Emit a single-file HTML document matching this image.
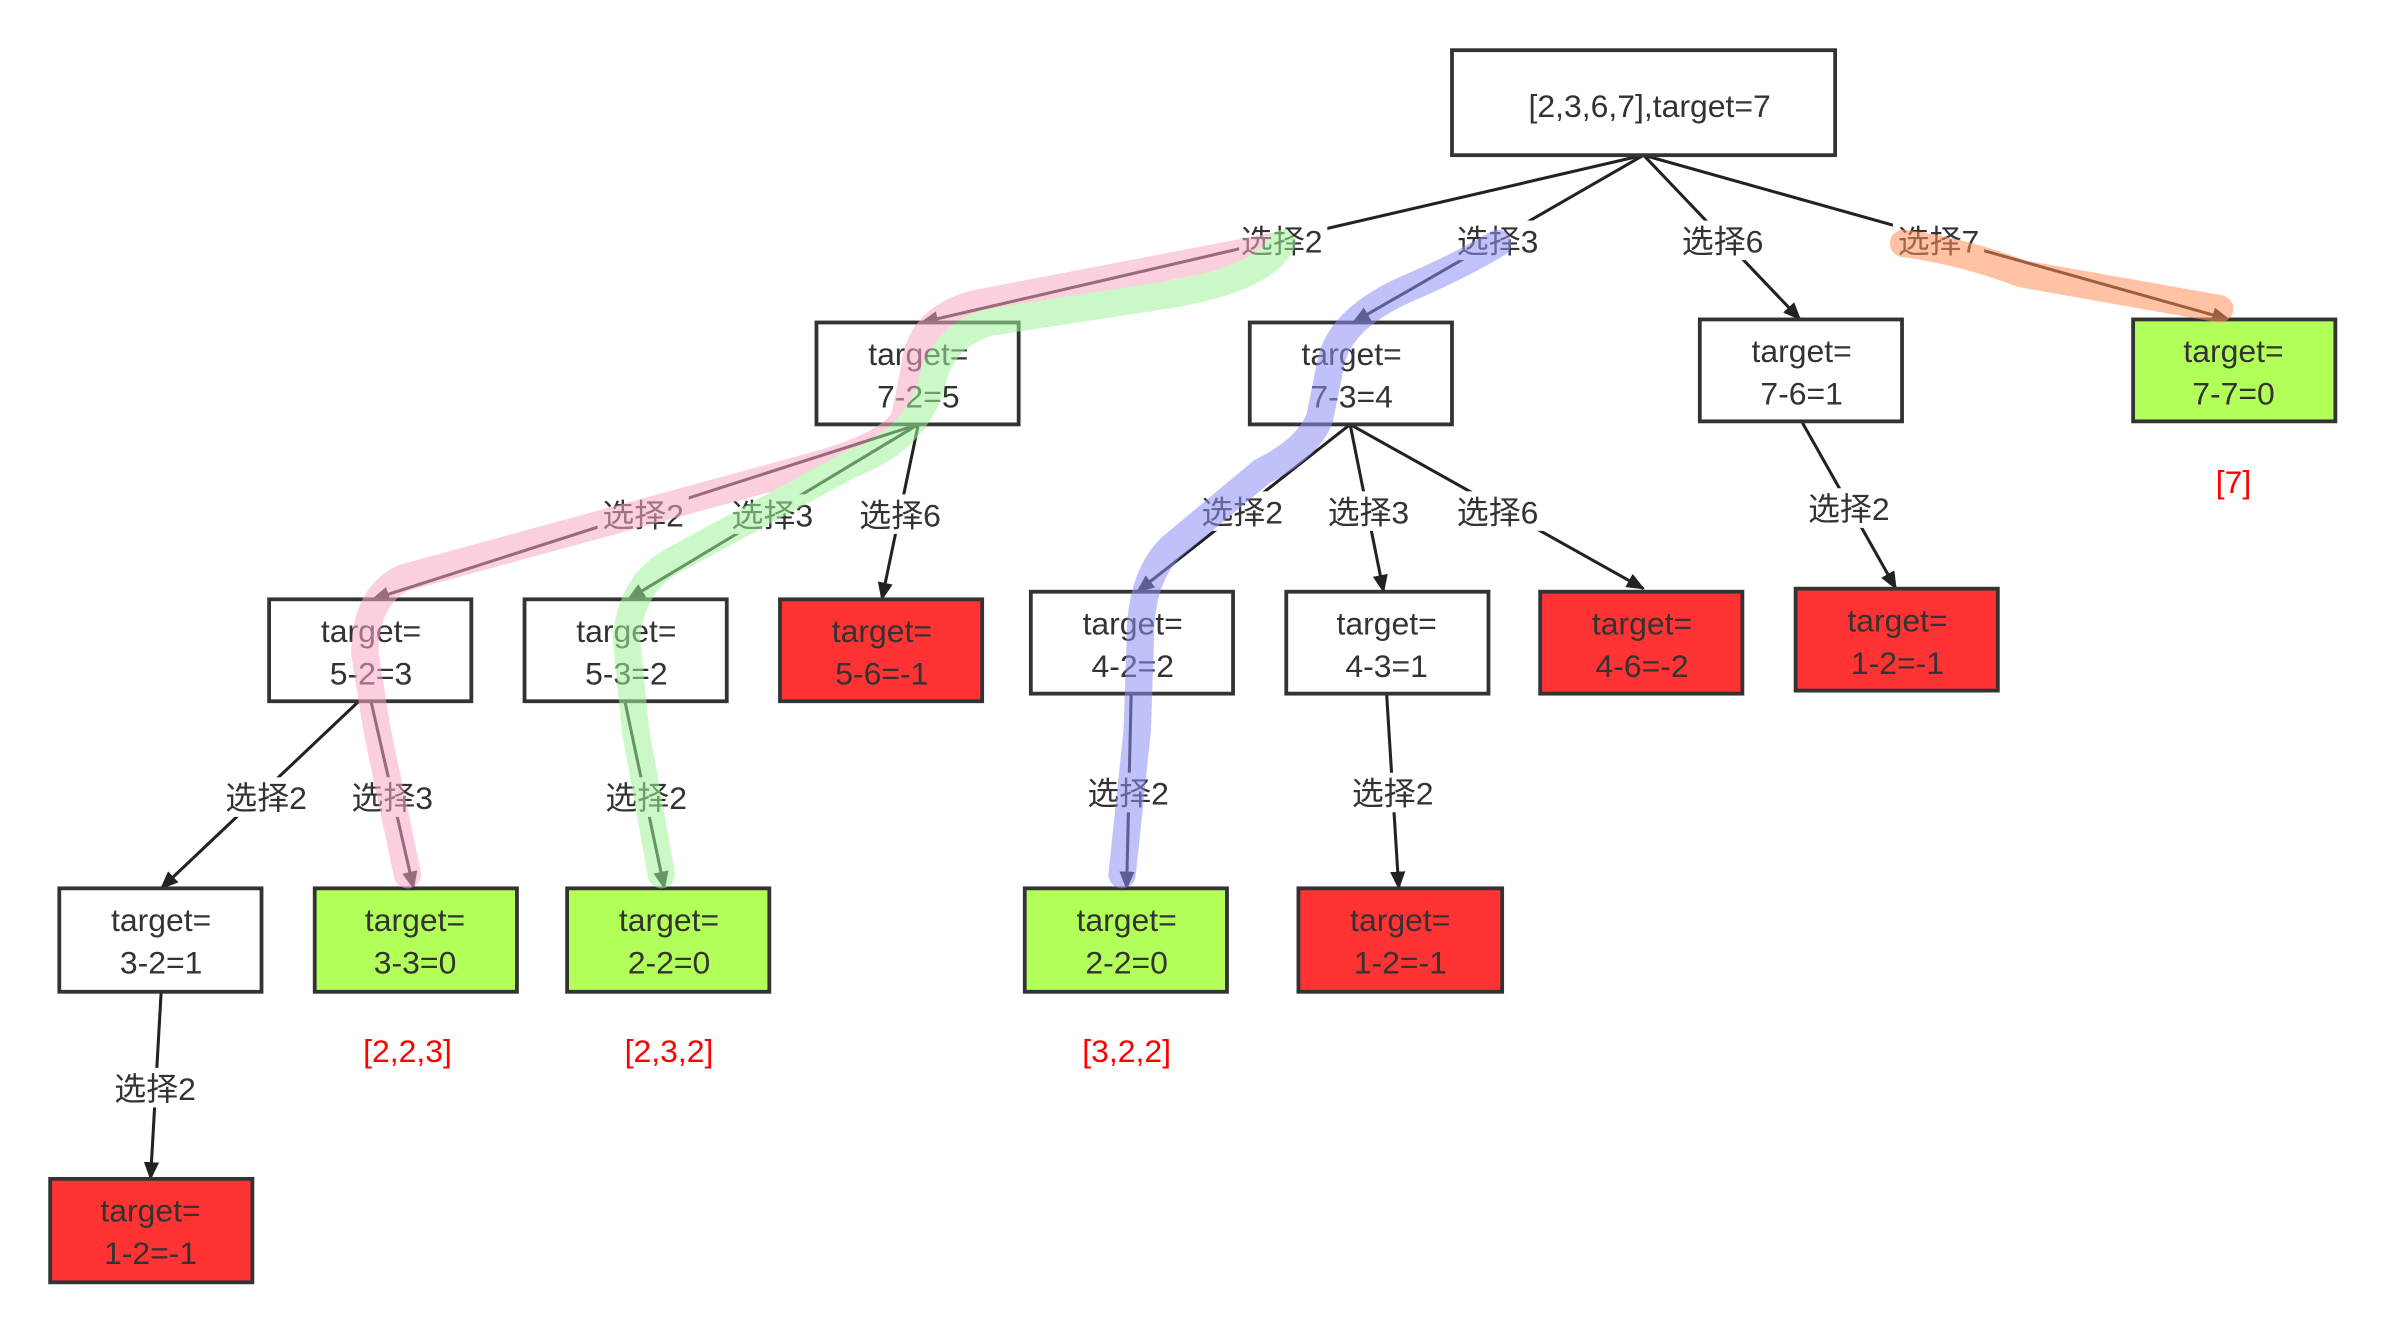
<!DOCTYPE html>
<html><head><meta charset="utf-8"><style>
html,body{margin:0;padding:0;background:#fff;}
svg{display:block;}
text{font-family:"Liberation Sans","Noto Sans CJK SC",sans-serif;font-size:21px;fill:#333;text-anchor:middle;}
</style></head><body>
<svg width="2384" height="1331" viewBox="0 0 1568 875" preserveAspectRatio="none" xmlns="http://www.w3.org/2000/svg">
<defs>
<marker id="ar" markerWidth="12" markerHeight="10" refX="11" refY="5" orient="auto" markerUnits="userSpaceOnUse">
<path d="M0,0 L12,5 L0,10 z" fill="#222"/></marker>
</defs>
<rect width="1568" height="875" fill="#fff"/>
<g stroke="#222" stroke-width="2" fill="none" marker-end="url(#ar)">
<line x1="1081" y1="102" x2="606" y2="212"/>
<line x1="1081" y1="102" x2="890" y2="212"/>
<line x1="1081" y1="102" x2="1184" y2="210"/>
<line x1="1081" y1="102" x2="1466" y2="210"/>
<line x1="604" y1="279" x2="245" y2="394"/>
<line x1="604" y1="279" x2="413" y2="394"/>
<line x1="604" y1="279" x2="580" y2="394"/>
<line x1="888" y1="279" x2="748" y2="389"/>
<line x1="888" y1="279" x2="910" y2="389"/>
<line x1="888" y1="279" x2="1081" y2="387"/>
<line x1="1185" y1="277" x2="1247" y2="387"/>
<line x1="236" y1="461" x2="106" y2="584"/>
<line x1="244" y1="461" x2="272" y2="584"/>
<line x1="411" y1="461" x2="437" y2="584"/>
<line x1="744" y1="456" x2="741" y2="584"/>
<line x1="912" y1="456" x2="920" y2="584"/>
<line x1="106" y1="652" x2="99" y2="775"/>
</g>
<g fill="#fff">
<rect x="815" y="145" width="58" height="26"/><rect x="955" y="145" width="60" height="26"/>
<rect x="1103" y="145" width="60" height="26"/><rect x="1245" y="145" width="60" height="26"/>
<rect x="393" y="325" width="60" height="26"/><rect x="478" y="325" width="60" height="26"/>
<rect x="562" y="325" width="60" height="26"/><rect x="787" y="323" width="60" height="26"/>
<rect x="870" y="323" width="60" height="26"/><rect x="955" y="323" width="60" height="26"/>
<rect x="1186" y="321" width="60" height="26"/><rect x="145" y="511" width="60" height="26"/>
<rect x="228" y="511" width="60" height="26"/><rect x="395" y="511" width="60" height="26"/>
<rect x="712" y="508" width="60" height="26"/><rect x="886" y="508" width="60" height="26"/>
<rect x="72" y="702" width="60" height="26"/>
</g>
<g>
<text x="843" y="166">选择2</text><text x="985" y="166">选择3</text>
<text x="1133" y="166">选择6</text><text x="1275" y="166">选择7</text>
<text x="423" y="346">选择2</text><text x="508" y="346">选择3</text>
<text x="592" y="346">选择6</text><text x="817" y="344">选择2</text>
<text x="900" y="344">选择3</text><text x="985" y="344">选择6</text>
<text x="1216" y="342">选择2</text><text x="175" y="532">选择2</text>
<text x="258" y="532">选择3</text><text x="425" y="532">选择2</text>
<text x="742" y="529">选择2</text><text x="916" y="529">选择2</text>
<text x="102" y="723">选择2</text>
</g>
<g stroke="#333" stroke-width="2.5">
<rect x="955" y="33" width="252" height="69" fill="#fff"/>
<rect x="537" y="212" width="133" height="67" fill="#fff"/>
<rect x="822" y="212" width="133" height="67" fill="#fff"/>
<rect x="1118" y="210" width="133" height="67" fill="#fff"/>
<rect x="1403" y="210" width="133" height="67" fill="#b2ff59"/>
<rect x="177" y="394" width="133" height="67" fill="#fff"/>
<rect x="345" y="394" width="133" height="67" fill="#fff"/>
<rect x="513" y="394" width="133" height="67" fill="#ff3333"/>
<rect x="678" y="389" width="133" height="67" fill="#fff"/>
<rect x="846" y="389" width="133" height="67" fill="#fff"/>
<rect x="1013" y="389" width="133" height="67" fill="#ff3333"/>
<rect x="1181" y="387" width="133" height="67" fill="#ff3333"/>
<rect x="39" y="584" width="133" height="68" fill="#fff"/>
<rect x="207" y="584" width="133" height="68" fill="#b2ff59"/>
<rect x="373" y="584" width="133" height="68" fill="#b2ff59"/>
<rect x="674" y="584" width="133" height="68" fill="#b2ff59"/>
<rect x="854" y="584" width="134" height="68" fill="#ff3333"/>
<rect x="33" y="775" width="133" height="68" fill="#ff3333"/>
</g>
<g>
<text x="1085" y="77">[2,3,6,7],target=7</text>
<text x="604" y="240">target=</text><text x="604" y="268">7-2=5</text>
<text x="889" y="240">target=</text><text x="889" y="268">7-3=4</text>
<text x="1185" y="238">target=</text><text x="1185" y="266">7-6=1</text>
<text x="1469" y="238">target=</text><text x="1469" y="266">7-7=0</text>
<text x="244" y="422">target=</text><text x="244" y="450">5-2=3</text>
<text x="412" y="422">target=</text><text x="412" y="450">5-3=2</text>
<text x="580" y="422">target=</text><text x="580" y="450">5-6=-1</text>
<text x="745" y="417">target=</text><text x="745" y="445">4-2=2</text>
<text x="912" y="417">target=</text><text x="912" y="445">4-3=1</text>
<text x="1080" y="417">target=</text><text x="1080" y="445">4-6=-2</text>
<text x="1248" y="415">target=</text><text x="1248" y="443">1-2=-1</text>
<text x="106" y="612">target=</text><text x="106" y="640">3-2=1</text>
<text x="273" y="612">target=</text><text x="273" y="640">3-3=0</text>
<text x="440" y="612">target=</text><text x="440" y="640">2-2=0</text>
<text x="741" y="612">target=</text><text x="741" y="640">2-2=0</text>
<text x="921" y="612">target=</text><text x="921" y="640">1-2=-1</text>
<text x="99" y="803">target=</text><text x="99" y="831">1-2=-1</text>
</g>
<g style="font-size:25px">
<text x="1469" y="324" style="fill:#f00">[7]</text>
<text x="268" y="698" style="fill:#f00">[2,2,3]</text>
<text x="440" y="698" style="fill:#f00">[2,3,2]</text>
<text x="741" y="698" style="fill:#f00">[3,2,2]</text>
</g>
<g fill="none" stroke-linecap="round" stroke-linejoin="round" stroke-width="18" opacity="0.55">
<path d="M838,162 L640,200 Q605,210 602,240 L595,275 Q585,292 540,305 L265,380 Q240,392 240,430 L248,480 L268,575" stroke="#f7a8c4"/>
<path d="M843,160 Q830,185 760,195 L650,212 Q618,222 612,255 Q600,290 560,305 L440,370 Q415,385 412,420 L418,480 L435,575" stroke="#9ff59a"/>
<path d="M985,160 Q960,175 925,190 Q880,210 875,240 L868,275 Q860,295 830,310 L770,360 Q750,380 750,420 L748,480 L738,575" stroke="#8f8ff5"/>
<path d="M1252,160 Q1290,165 1330,180 L1460,203" stroke="#ff8f5a"/>
</g>
</svg>
</body></html>
